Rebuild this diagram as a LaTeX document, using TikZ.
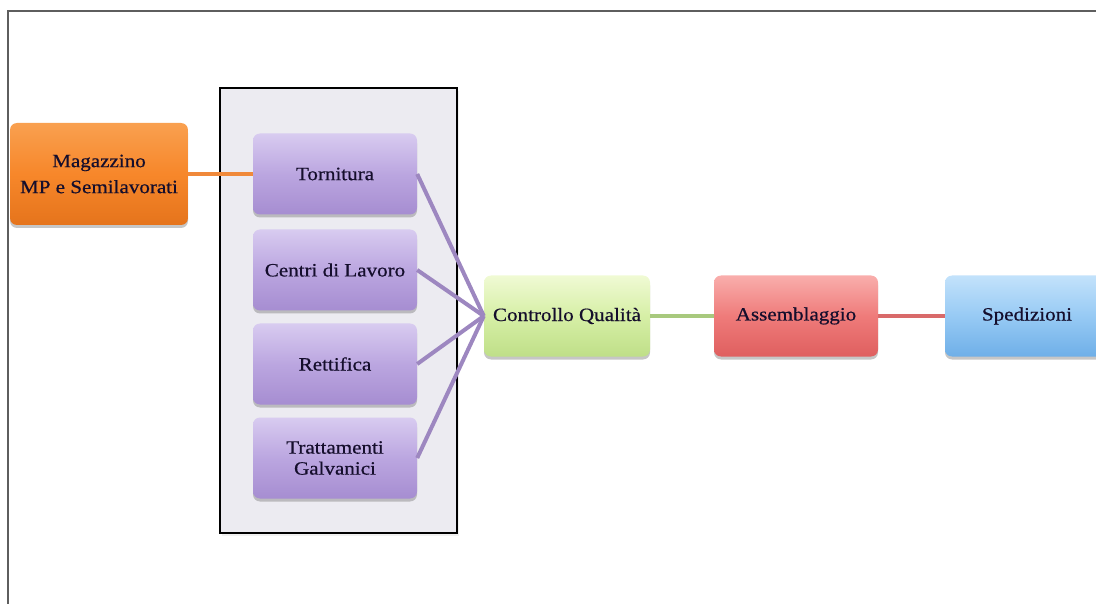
\documentclass[tikz,border=0pt]{standalone}
\usepackage{fontspec}
\setmainfont[FakeStretch=1.12, FakeBold=0.6]{Liberation Serif}
\usetikzlibrary{shadows}

\definecolor{txt}{HTML}{150E2C}
\definecolor{frameline}{HTML}{5E5E5E}
\definecolor{panelfill}{HTML}{ECEBF1}
\definecolor{orgT}{HTML}{F9A050}\definecolor{orgM}{HTML}{F7872A}\definecolor{orgB}{HTML}{E5741C}
\definecolor{purT}{HTML}{D8CBF0}\definecolor{purM}{HTML}{BBA6E0}\definecolor{purB}{HTML}{A68DD1}
\definecolor{grnT}{HTML}{F0FAD4}\definecolor{grnM}{HTML}{D6EFA6}\definecolor{grnB}{HTML}{BFDF88}
\definecolor{redT}{HTML}{F9AEAC}\definecolor{redM}{HTML}{EF7B7A}\definecolor{redB}{HTML}{DF5F5F}
\definecolor{bluT}{HTML}{C3E2FB}\definecolor{bluM}{HTML}{97CAF4}\definecolor{bluB}{HTML}{6FAFE8}
\definecolor{orgLine}{HTML}{F0893A}
\definecolor{purLine}{HTML}{9D87C0}
\definecolor{grnLine}{HTML}{A8C97E}
\definecolor{redLine}{HTML}{D96A6A}

\tikzset{
  procbox/.style={rectangle, rounded corners=7pt, inner sep=0pt,
    minimum width=164pt, minimum height=81pt, align=center,
    font=\fontsize{18.8}{21}\selectfont, text=txt,
    drop shadow={shadow xshift=0pt, shadow yshift=-3pt, opacity=0.45}},
  orangebox/.style={procbox, shading=axis, top color=orgT, bottom color=orgB, middle color=orgM},
  purplebox/.style={procbox, shading=axis, top color=purT, bottom color=purB, middle color=purM},
  greenbox/.style={procbox, shading=axis, top color=grnT, bottom color=grnB, middle color=grnM},
  redbox/.style={procbox, shading=axis, top color=redT, bottom color=redB, middle color=redM},
  bluebox/.style={procbox, shading=axis, top color=bluT, bottom color=bluB, middle color=bluM},
  link/.style={line width=4pt}
}

\begin{document}
\begin{tikzpicture}[x=1pt,y=1pt]
  \useasboundingbox (0,-604) rectangle (1096,0);
  \begin{scope}
    \clip (0,-604) rectangle (1096,0);

    % outer frame (top and left sides)
    \draw[frameline, line width=2pt] (8,-604) -- (8,-11) -- (1096,-11);

    % machining department panel
    \node[draw=black, line width=1.5pt, fill=panelfill, inner sep=0pt,
          minimum width=237pt, minimum height=445pt,
          drop shadow={shadow xshift=2pt, shadow yshift=-3pt, opacity=0.12}]
          (panel) at (338.5,-310.5) {};

    % process boxes
    \node[orangebox, minimum width=178pt, minimum height=102pt,
          font=\fontsize{18.8}{26}\selectfont] (mag) at (99,-174) {Magazzino\\MP e Semilavorati};
    \node[purplebox] (torn) at (335,-174) {Tornitura};
    \node[purplebox] (centri) at (335,-270) {Centri di Lavoro};
    \node[purplebox] (rett) at (335,-364) {Rettifica};
    \node[purplebox] (tratt) at (335,-458) {Trattamenti\\Galvanici};
    \node[greenbox, minimum width=166pt] (cq) at (567,-316) {Controllo Qualità};
    \node[redbox] (ass) at (796,-316) {Assemblaggio};
    \node[bluebox] (sped) at (1027,-316) {Spedizioni};

    % connectors
    \draw[link, orgLine] (mag.east |- torn.west) -- (torn.west);
    \draw[link, purLine] (torn.east) -- (cq.west);
    \draw[link, purLine] (centri.east) -- (cq.west);
    \draw[link, purLine] (rett.east) -- (cq.west);
    \draw[link, purLine] (tratt.east) -- (cq.west);
    \draw[link, grnLine] (cq.east) -- (ass.west);
    \draw[link, redLine] (ass.east) -- (sped.west);
  \end{scope}
\end{tikzpicture}
\end{document}
